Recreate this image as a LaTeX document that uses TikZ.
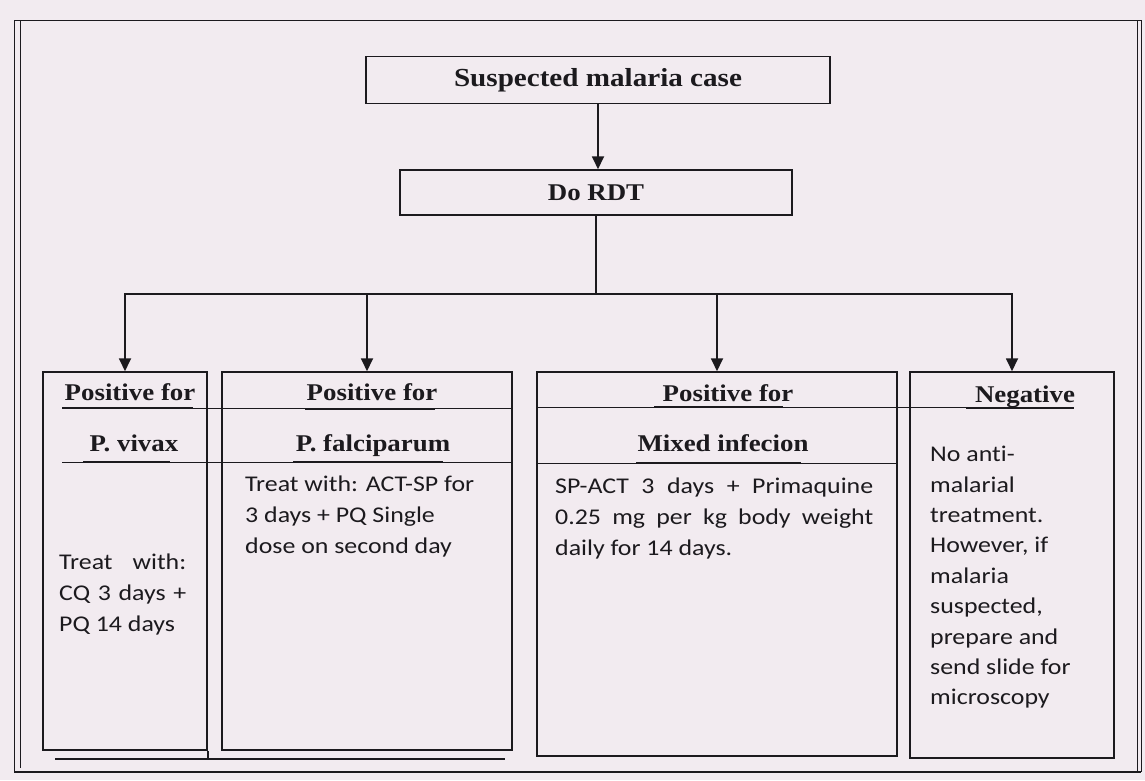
\documentclass[tikz,border=0pt]{standalone}
\usepackage{fontspec}
\setmainfont{Carlito}[FakeStretch=1.15, Ligatures=NoCommon]
\newfontfamily\hfont{Liberation Serif}[FakeStretch=1.12]
\usetikzlibrary{arrows.meta}
\definecolor{paper}{RGB}{242,235,240}
\definecolor{ink}{RGB}{28,26,30}
\begin{document}
\begin{tikzpicture}[x=1pt,y=-1pt,
  box/.style={draw=ink, line width=1.5pt, inner sep=0pt},
  hd/.style={font=\hfont\bfseries\fontsize{24}{28}\selectfont, text=ink, inner sep=0pt, anchor=base},
  body/.style={font=\fontsize{22.5}{31}\selectfont, text=ink, inner sep=0pt, anchor=north west, align=left},
  conn/.style={draw=ink, line width=1.8pt},
  arr/.style={conn, -{Triangle[length=13pt,width=12pt]}},
  rule/.style={draw=ink, line width=0.9pt},
  uline/.style={draw=ink, line width=2.2pt},
  frame/.style={draw=ink, line width=1pt}
]
\fill[paper] (0,0) rectangle (1145,780);
\useasboundingbox (0,0) rectangle (1145,780);

% outer frame
\draw[frame] (14,20) -- (1141,20);
\draw[frame] (14,20) -- (14,772);
\draw[frame] (20,20) -- (20,768);
\draw[frame] (1137,20) -- (1137,772);
\draw[frame] (1141,20) -- (1141,772);
\draw[frame, line width=1.8pt] (14,772) -- (1141,772);

% top boxes
\node[box, minimum width=464pt, minimum height=47pt, font=\hfont\bfseries\fontsize{26}{30}\selectfont, text=ink] (susp) at (598,80) {Suspected malaria case};
\node[box, minimum width=392pt, minimum height=45pt, font=\hfont\bfseries\fontsize{24}{28}\selectfont, text=ink] (rdt) at (596,192.5) {Do RDT};

% result boxes
\node[box, minimum width=164pt, minimum height=378pt] (vivax) at (125,561) {};
\node[box, minimum width=290pt, minimum height=378pt] (falc) at (367,561) {};
\node[box, minimum width=360pt, minimum height=384pt] (mixed) at (717,564) {};
\node[box, minimum width=204pt, minimum height=386pt] (neg) at (1012,565) {};

% extra bottom lines
\draw[box] (vivax.south east) -- ++(0,9);
\draw[rule, line width=1.2pt] (55,759) -- (505,759);

% connectors
\coordinate (bar) at (596,294);
\draw[arr] (susp.south) -- (susp.south |- rdt.north);
\draw[conn] (rdt.south) -- (bar);
\draw[arr] (bar) -| (vivax.north);
\draw[arr] (bar) -| (falc.north);
\draw[arr] (bar) -| (mixed.north);
\draw[arr] (bar) -| (neg.north);

% dividers
\draw[rule] (62,408.5) -- (512,408.5);
\draw[rule] (62,462) -- (512,462);
\draw[rule] (537,407) -- (1074,407);
\draw[rule] (537,463) -- (897,463);

% headings
\node[hd] (vpos) at (130,400) {Positive for};
\node[hd] (vname) at (134,451) {P. vivax};
\node[hd] (fpos) at (372,400) {Positive for};
\node[hd] (fname) at (373,451) {P. falciparum};
\node[hd] (mpos) at (728,401) {Positive for};
\node[hd] (mname) at (723,451) {Mixed infecion};
\node[hd] (negt) at (1025,402) {Negative};

% underlines
\draw[uline] (62,408) -- (193,408);
\draw[uline] (83,462) -- (170,462);
\draw[uline] (305,409) -- (435,409);
\draw[uline] (293,462) -- (443,462);
\draw[uline] (654,407) -- (783,407);
\draw[uline] (636,463) -- (801,463);
\draw[uline] (966,408) -- (1074,408);

% body texts
\node[body, text width=127pt, align=justify] (vtx) at (59,554) {Treat with:\linebreak CQ 3 days +\linebreak PQ 14 days};
\node[body] (ftx) at (245,476) {Treat with: ACT-SP for\\3 days + PQ Single\\dose on second day};
\node[body, text width=318pt, align=justify] (mtx) at (555,478) {SP-ACT 3 days + Primaquine\linebreak 0.25 mg per kg body weight\linebreak daily for 14 days.};
\node[body, font=\fontsize{22.5}{30.4}\selectfont] (ntx) at (930,446) {No anti-\\malarial\\treatment.\\However, if\\malaria\\suspected,\\prepare and\\send slide for\\microscopy};
\end{tikzpicture}
\end{document}
